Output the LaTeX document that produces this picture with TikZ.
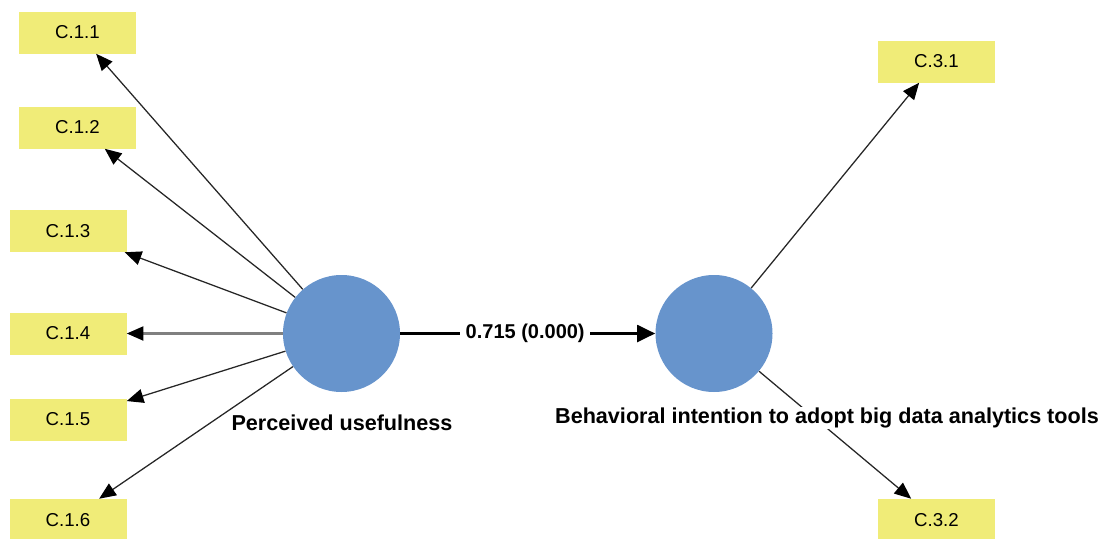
\documentclass[tikz,border=0pt]{standalone}
\usepackage{fontspec}
\setmainfont{Liberation Sans}
\usetikzlibrary{arrows.meta}
\definecolor{boxyellow}{RGB}{240,236,120}
\definecolor{lvblue}{RGB}{103,148,204}
\begin{document}
\begin{tikzpicture}[x=0.75pt,y=-0.75pt,
  indbox/.style={rectangle, fill=boxyellow, minimum width=87.75pt, minimum height=31.5pt, inner sep=0pt, font=\fontsize{14}{16}\selectfont},
  latent/.style={circle, fill=lvblue, minimum size=87.75pt, inner sep=0pt},
  load/.style={draw=black!85, line width=0.95pt, -{Triangle[length=12.5pt,width=10.5pt,color=black]}},
  grayload/.style={load, draw=black!50, line width=1.6pt},
  structpath/.style={draw=black, line width=2.2pt, -{Triangle[length=13.5pt,width=12.5pt]}},
  lvlabel/.style={fill=white, inner sep=1pt, font=\bfseries\fontsize{16.2}{19}\selectfont},
  pathlabel/.style={fill=white, inner sep=4pt, font=\bfseries\fontsize{15}{18}\selectfont},
]
\useasboundingbox (0,0) rectangle (1107,539);

% latent variables
\node[latent] (PU) at (341.5,333.5) {};
\node[latent] (BI) at (714,333.5) {};

% indicators
\node[indbox] (c11) at (77.5,32.5) {C.1.1};
\node[indbox] (c12) at (77.5,127.5) {C.1.2};
\node[indbox] (c13) at (68,231) {C.1.3};
\node[indbox] (c14) at (68,333.5) {C.1.4};
\node[indbox] (c15) at (68,419.5) {C.1.5};
\node[indbox] (c16) at (68,520) {C.1.6};
\node[indbox] (c31) at (936.5,61.5) {C.3.1};
\node[indbox] (c32) at (936.5,520) {C.3.2};

% loadings
\foreach \t in {c11,c12,c13,c15,c16}
  \draw[load] (PU) -- (\t);
\draw[grayload] (PU) -- (c14);
\draw[load] (BI) -- (c31);
\draw[load] (BI) -- (c32);

% structural path
\draw[structpath] (PU) -- node[pathlabel, pos=0.49] (coef) {0.715 (0.000)} (BI);

% latent labels
\node[lvlabel] (PUlab) at (342,423) {Perceived usefulness};
\node[lvlabel] (BIlab) at (827,418) {Behavioral intention to adopt big data analytics tools};
\end{tikzpicture}
\end{document}
